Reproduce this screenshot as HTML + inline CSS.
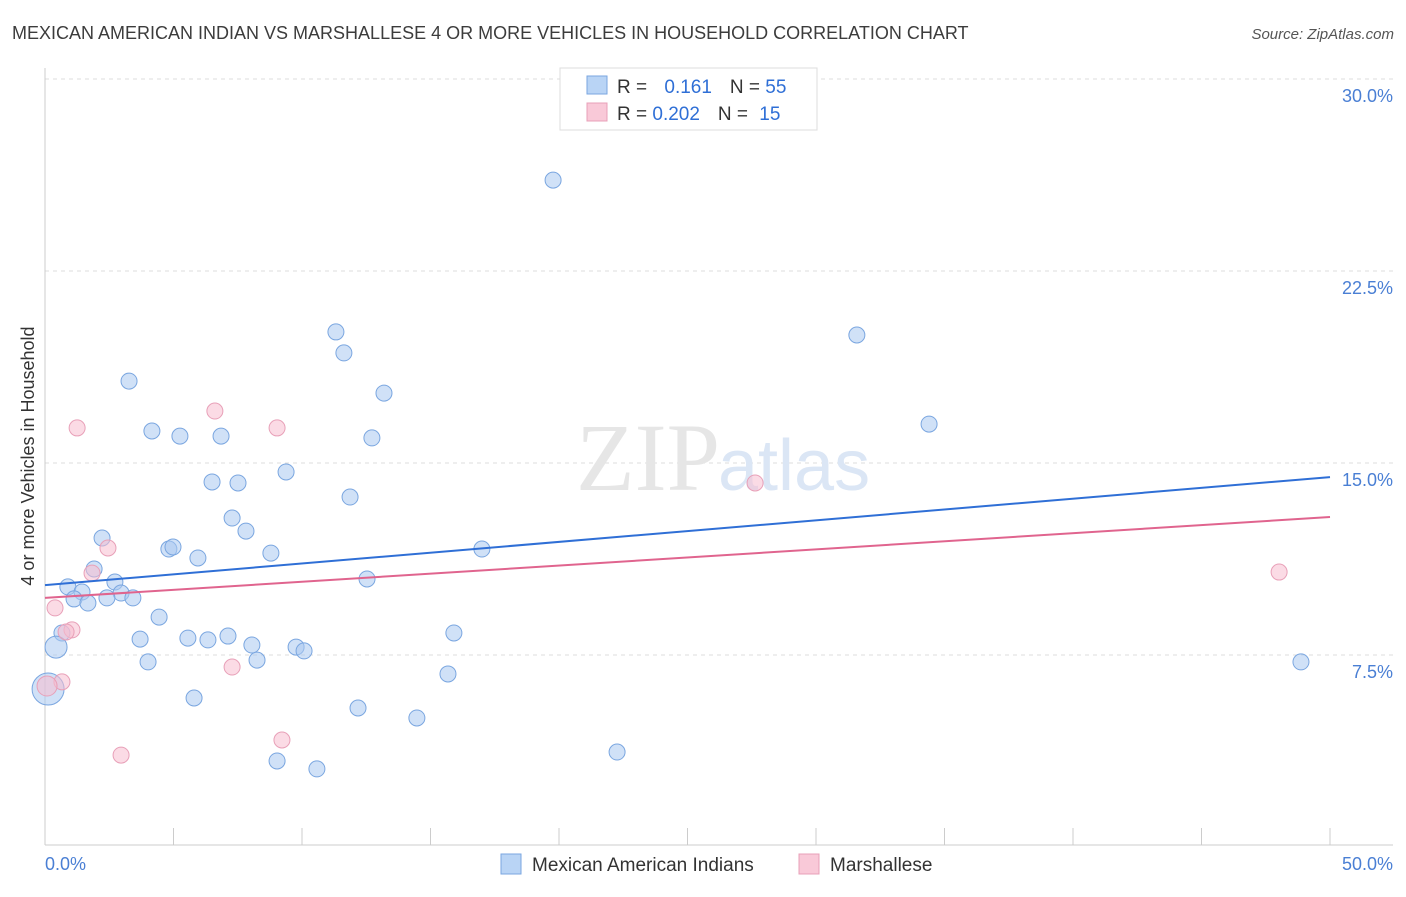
<!DOCTYPE html>
<html><head><meta charset="utf-8"><style>
body{margin:0;background:#fff;font-family:"Liberation Sans",sans-serif}
</style></head><body>
<svg id="chart" width="1406" height="892" xmlns="http://www.w3.org/2000/svg" font-family="Liberation Sans, sans-serif">
<text x="12" y="39" font-size="18" fill="#3c3c3c">MEXICAN AMERICAN INDIAN VS MARSHALLESE 4 OR MORE VEHICLES IN HOUSEHOLD CORRELATION CHART</text>
<text x="1394" y="39" font-size="15" fill="#555" text-anchor="end" font-style="italic">Source: ZipAtlas.com</text>
<g id="grid"></g>
<text x="720" y="490" font-size="96" fill="#e6e6e6" text-anchor="end" font-family="Liberation Serif, serif">ZIP</text>
<text x="718" y="490" font-size="72" fill="#dbe6f5">atlas</text>
<g id="marks"></g>
<text transform="translate(34,456) rotate(-90)" font-size="18" fill="#333" text-anchor="middle">4 or more Vehicles in Household</text>
<text x="45" y="870" font-size="18" fill="#4a7fd4">0.0%</text>
<text x="1393" y="870" font-size="18" fill="#4a7fd4" text-anchor="end">50.0%</text>
<g>
<rect x="560" y="68" width="257" height="62" fill="#fff" stroke="#ddd"/>
<rect x="587" y="76" width="20" height="18" fill="#b9d4f5" stroke="#7aa6e0"/>
<rect x="587" y="103" width="20" height="18" fill="#f9c9d8" stroke="#e8a0b8"/>
<text x="617" y="93" font-size="19" fill="#333">R = <tspan fill="#2f6fd6" dx="12">0.161</tspan><tspan dx="18" fill="#333">N = </tspan><tspan fill="#2f6fd6">55</tspan></text>
<text x="617" y="120" font-size="19" fill="#333">R = <tspan fill="#2f6fd6">0.202</tspan><tspan dx="18" fill="#333">N = </tspan><tspan fill="#2f6fd6" dx="6">15</tspan></text>
</g>
<g>
<rect x="501" y="854" width="20" height="20" fill="#b9d4f5" stroke="#7aa6e0"/>
<text x="532" y="871" font-size="19" fill="#333">Mexican American Indians</text>
<rect x="799" y="854" width="20" height="20" fill="#f9c9d8" stroke="#e8a0b8"/>
<text x="830" y="871" font-size="19" fill="#333">Marshallese</text>
</g>
</svg>
<script>
const yTicks=[7.5,15,22.5,30];
const yTickLabels=["7.5%","15.0%","22.5%","30.0%"];
const blueX=[19.77,11.32,11.63,31.59,3.27,13.19,34.40,4.16,5.25,6.85,12.72,9.38,6.50,7.51,11.87,7.28,7.82,2.22,4.82,4.98,8.79,5.95,17.00,1.91,2.72,12.53,0.89,1.44,2.96,1.13,2.41,3.42,1.67,4.44,0.66,15.91,3.70,5.56,6.34,7.12,8.05,9.77,10.08,0.43,4.01,8.25,48.87,15.68,5.80,0.12,12.18,14.47,22.26,9.03,10.58];
const blueY=[26.05,20.12,19.30,20.0,18.20,17.73,16.52,16.25,16.05,16.05,15.98,14.65,14.26,14.22,13.67,12.85,12.34,12.07,11.64,11.72,11.48,11.29,11.64,10.86,10.35,10.47,10.16,9.96,9.92,9.69,9.73,9.73,9.53,8.98,8.36,8.36,8.12,8.16,8.09,8.24,7.89,7.81,7.66,7.81,7.23,7.30,7.23,6.76,5.82,6.17,5.43,5.04,3.71,3.36,3.05];
const blueR=[8,8,8,8,8,8,8,8,8,8,8,8,8,8,8,8,8,8,8,8,8,8,8,8,8,8,8,8,8,8,8,8,8,8,8,8,8,8,8,8,8,8,8,11,8,8,8,8,8,16,8,8,8,8,8];
const pinkX=[1.25,6.61,9.03,27.63,2.45,1.83,0.39,1.05,0.82,48.02,0.66,0.08,7.28,9.22,2.96];
const pinkY=[16.37,17.03,16.37,14.22,11.68,10.70,9.34,8.48,8.40,10.74,6.45,6.29,7.03,4.18,3.59];
const pinkR=[8,8,8,8,8,8,8,8,8,8,8,10,8,8,8];
const blueTrend=[10.23,14.45];
const pinkTrend=[9.73,12.89];
const X0=45,X1=1330,Y0=847;
const sx=v=>X0+(v/50)*(X1-X0);
const sy=v=>Y0-v*(192/7.5);
const NS="http://www.w3.org/2000/svg";
function mk(tag,attrs,parent){const e=document.createElementNS(NS,tag);for(const k in attrs)e.setAttribute(k,attrs[k]);parent.appendChild(e);return e;}
const grid=document.getElementById('grid'),marks=document.getElementById('marks');
yTicks.forEach((t,i)=>{
 const l=mk('line',{x1:45,x2:1393,y1:sy(t),y2:sy(t),stroke:'#dcdcdc','stroke-dasharray':'4,4'},grid);
 
 
 const tx=mk('text',{x:1393,y:sy(t)+23,'font-size':18,fill:'#4a7fd4','text-anchor':'end'},grid);
 tx.textContent=yTickLabels[i];
 
 
});
const ax=mk('line',{x1:45,x2:45,y1:68,y2:845,stroke:'#ccc'},grid);


const bx=mk('line',{x1:45,x2:1393,y1:845,y2:845,stroke:'#ccc'},grid);


for(let i=0;i<=10;i++){
 const t=mk('line',{x1:sx(i*5),x2:sx(i*5),y1:828,y2:845,stroke:'#ccc'},grid);
 
 
}
blueX.forEach((x,i)=>{
 const c=mk('circle',{cx:sx(x),cy:sy(blueY[i]),r:blueR[i],fill:'rgba(170,200,240,0.55)',stroke:'#7aa6e0','stroke-width':1},marks);
 
 
});
pinkX.forEach((x,i)=>{
 const c=mk('circle',{cx:sx(x),cy:sy(pinkY[i]),r:pinkR[i],fill:'rgba(248,190,208,0.55)',stroke:'#e8a0b8','stroke-width':1},marks);
 
 
});
const bl=mk('line',{x1:sx(0),y1:sy(blueTrend[0]),x2:sx(50),y2:sy(blueTrend[1]),stroke:'#2f6fd6','stroke-width':2},marks);


const pl=mk('line',{x1:sx(0),y1:sy(pinkTrend[0]),x2:sx(50),y2:sy(pinkTrend[1]),stroke:'#e0648e','stroke-width':2},marks);


</script>
</body></html>
